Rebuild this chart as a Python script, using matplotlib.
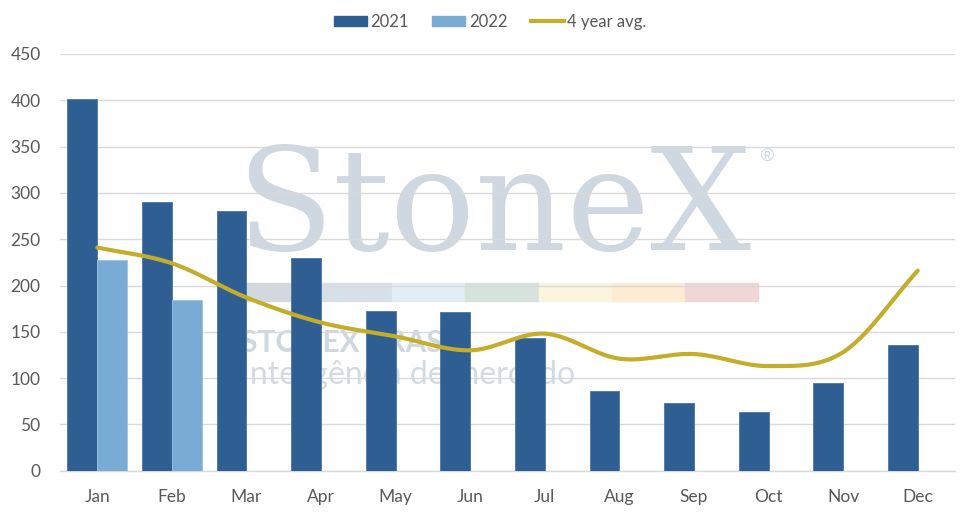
import numpy as np
import matplotlib
matplotlib.use("Agg")
import matplotlib.pyplot as plt
from matplotlib.patches import Rectangle
from matplotlib.lines import Line2D
from matplotlib.patches import Patch

months = ["Jan", "Feb", "Mar", "Apr", "May", "Jun", "Jul", "Aug", "Sep", "Oct", "Nov", "Dec"]
y2021 = [401, 290, 280, 230, 173, 171, 143, 86, 73, 63, 95, 136]
y2022 = [227, 184]
avg4 = [241, 224, 187, 160, 145, 130, 148, 121, 126, 113, 128, 216]
yticks = [0, 50, 100, 150, 200, 250, 300, 350, 400, 450]

c2021 = "#2f5e92"
c2022 = "#79acd5"
cavg = "#c3ad2a"
FONT = ["Lato", "DejaVu Sans"]

def catmull(xs, ys, n=30):
    xs = np.asarray(xs, float); ys = np.asarray(ys, float)
    px = np.concatenate([[2*xs[0]-xs[1]], xs, [2*xs[-1]-xs[-2]]])
    py = np.concatenate([[2*ys[0]-ys[1]], ys, [2*ys[-1]-ys[-2]]])
    ox, oy = [], []
    for i in range(1, len(px)-2):
        t = np.linspace(0, 1, n, endpoint=(i == len(px)-3))
        for P, out in ((px, ox), (py, oy)):
            p0, p1, p2, p3 = P[i-1], P[i], P[i+1], P[i+2]
            out.extend(0.5*((2*p1) + (-p0+p2)*t + (2*p0-5*p1+4*p2-p3)*t**2 + (-p0+3*p1-3*p2+p3)*t**3))
    return np.array(ox), np.array(oy)

fig = plt.figure(figsize=(9.75, 5.24), dpi=100)
ax = fig.add_axes([60/975, 1-470.7/524, 895/975, (470.7-54)/524])

x = np.arange(len(months))
w = 0.4
ax.bar(x[:len(y2021)] - w/2, y2021, width=w, color=c2021, edgecolor="#4a77a8", linewidth=0.6, zorder=3)
ax.bar(x[:len(y2022)] + w/2, y2022, width=w, color=c2022, edgecolor="#9cc2e2", linewidth=0.6, zorder=3)
sx, sy = catmull(x, avg4)
ax.plot(sx, sy, color=cavg, linewidth=3, zorder=4, solid_capstyle="round")

ax.set_xlim(-0.5, 11.5)
ax.set_ylim(0, 450)
ax.set_yticks(yticks)
ax.set_xticks(x)
ax.set_xticklabels(months)
ax.yaxis.grid(True, color="#d9d9d9", linewidth=1, zorder=0)
ax.set_axisbelow(True)
for s in ["top", "right", "left"]:
    ax.spines[s].set_visible(False)
ax.spines["bottom"].set_color("#d9d9d9")
ax.spines["bottom"].set_linewidth(1)
ax.tick_params(axis="both", length=0, colors="#595959", labelsize=12.5)
ax.tick_params(axis="x", pad=13)
ax.tick_params(axis="y", pad=14)
for lab in ax.get_xticklabels() + ax.get_yticklabels():
    lab.set_family(FONT)

# watermark
wm = "#cfd8e0"
fig.text(236/975, 1-250/524, "StoneX", family=["DejaVu Serif"],
         fontsize=102, color=wm, ha="left", va="baseline", zorder=1)
fig.text(759/975, 1-156/524, "®", family=FONT, fontsize=13, color=wm, ha="left", va="center", zorder=1)
strip_cols = ["#d3d8de", "#d7dfe9", "#e3edf5", "#d5e3dc", "#faf4dc", "#fdecd2", "#f0d6d6"]
x0, x1 = 246, 758
segw = (x1 - x0) / len(strip_cols)
for i, c in enumerate(strip_cols):
    fig.patches.append(Rectangle(((x0 + i*segw)/975, 1-301/524), segw/975, 18/524,
                                 transform=fig.transFigure, color=c, zorder=1))
fig.text(241/975, 1-343/524, "STONEX BRASIL", family=FONT, fontsize=21.5, fontweight="bold",
         color="#cfd7df", ha="left", va="center", zorder=1)
fig.text(241/975, 1-375/524, "Inteligência de mercado", family=FONT, fontsize=23,
         color="#d3dae2", ha="left", va="center", zorder=1)
ax.set_zorder(2)
ax.patch.set_alpha(0)

handles = [Patch(color=c2021, label="2021"), Patch(color=c2022, label="2022"),
           Line2D([0], [0], color=cavg, linewidth=3, label="4 year avg.")]
leg = fig.legend(handles=handles, loc="center", bbox_to_anchor=(490/975, 1-22/524), ncol=3,
                 frameon=False, prop={"family": FONT, "size": 12}, handlelength=2.0,
                 handleheight=0.6, handletextpad=0.2, columnspacing=1.4)
for t in leg.get_texts():
    t.set_color("#595959")

fig.savefig("out.png", dpi=100)
